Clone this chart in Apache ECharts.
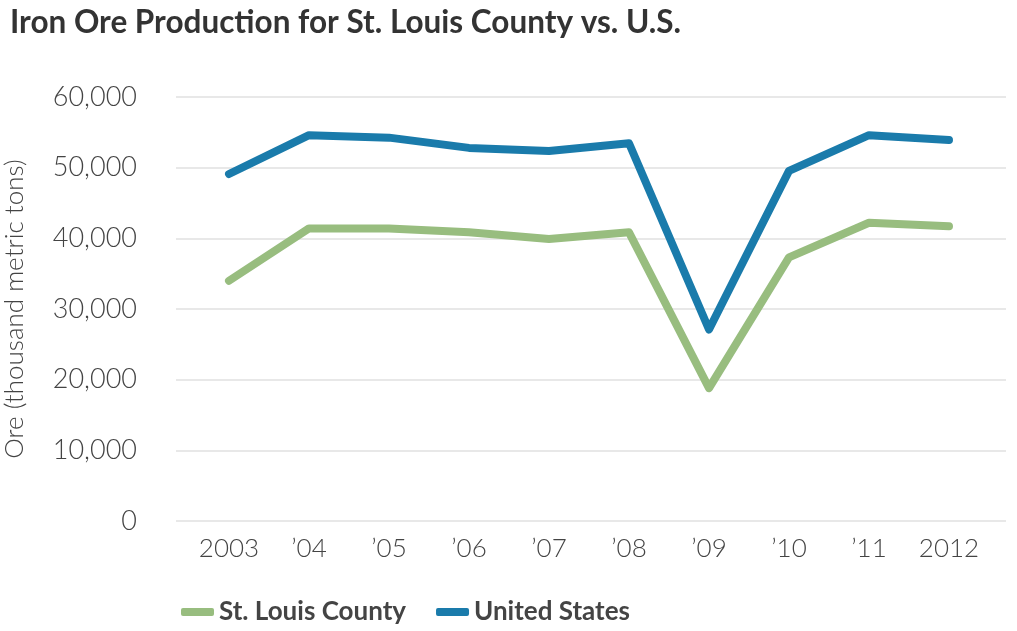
<!DOCTYPE html>
<html>
<head>
<meta charset="utf-8">
<script src="https://cdn.jsdelivr.net/npm/echarts@6/dist/echarts.min.js"></script>
<style>
html, body { margin: 0; padding: 0; background: #fff; }
#main { width: 1017px; height: 631px; }
</style>
</head>
<body>
<div id="main"></div>
<script>
// categories and values
var years = ['2003', '\u201904', '\u201905', '\u201906', '\u201907', '\u201908', '\u201909', '\u201910', '\u201911', '2012'];
var stLouis = [34000, 41400, 41400, 40850, 39900, 40850, 18800, 37300, 42200, 41700];
var unitedStates = [49100, 54600, 54250, 52800, 52350, 53450, 27100, 49550, 54600, 53900];
var yTicks = [0, 60000, 10000]; // min, max, interval

var myChart = echarts.init(document.getElementById('main'));

var labelFont = 'Lato, "Open Sans", sans-serif';

option = {
    backgroundColor: '#fff',
    title: {
        text: 'Iron Ore Production for St. Louis County vs. U.S.',
        left: 5,
        top: 2,
        textStyle: {
            fontFamily: labelFont,
            fontWeight: 'bold',
            fontSize: 31.5,
            color: '#333'
        }
    },
    legend: {
        left: 176,
        top: 594,
        icon: 'roundRect',
        itemWidth: 33,
        itemHeight: 8,
        itemGap: 30,
        textStyle: {
            fontFamily: labelFont,
            fontWeight: 'bold',
            fontSize: 26,
            color: '#444'
        },
        data: ['St. Louis County', 'United States']
    },
    grid: [
        // gridline / y-label frame
        {left: 176, right: 11, top: 97, bottom: 110, outerBoundsMode: 'none'},
        // plotting frame for the lines
        {left: 189, right: 28, top: 97, bottom: 110, outerBoundsMode: 'none'}
    ],
    xAxis: [
        {gridIndex: 0, type: 'category', data: years, show: false},
        {
            gridIndex: 1,
            type: 'category',
            data: years,
            boundaryGap: true,
            axisLine: {show: false},
            axisTick: {show: false},
            axisLabel: {
                interval: 0,
                hideOverlap: false,
                margin: 15,
                fontFamily: labelFont,
                fontWeight: 300,
                fontSize: 26,
                color: '#444'
            }
        }
    ],
    yAxis: [
        {
            gridIndex: 0,
            type: 'value',
            min: yTicks[0],
            max: yTicks[1],
            interval: yTicks[2],
            name: 'Ore (thousand metric tons)',
            nameLocation: 'middle',
            nameGap: 148,
            nameTextStyle: {
                fontFamily: labelFont,
                fontWeight: 300,
                fontSize: 26,
                color: '#444'
            },
            axisLine: {show: false},
            axisTick: {show: false},
            axisLabel: {
                margin: 39,
                fontFamily: labelFont,
                fontWeight: 300,
                fontSize: 27,
                color: '#444',
                formatter: function (v) {
                    return v.toLocaleString('en-US');
                }
            },
            splitLine: {lineStyle: {color: '#e8e8e8', width: 2}}
        },
        {
            gridIndex: 1,
            type: 'value',
            min: yTicks[0],
            max: yTicks[1],
            interval: yTicks[2],
            show: false,
            splitLine: {show: false}
        }
    ],
    series: [
        {
            name: 'St. Louis County',
            type: 'line',
            xAxisIndex: 1,
            yAxisIndex: 1,
            data: stLouis,
            symbol: 'none',
            color: '#98bd7f',
            lineStyle: {width: 8, cap: 'round', join: 'round', color: '#98bd7f'}
        },
        {
            name: 'United States',
            type: 'line',
            xAxisIndex: 1,
            yAxisIndex: 1,
            data: unitedStates,
            symbol: 'none',
            color: '#1a7bab',
            lineStyle: {width: 8, cap: 'round', join: 'round', color: '#1a7bab'}
        }
    ]
};

myChart.setOption(option);
window.addEventListener('resize', function () {
    myChart.resize();
});
</script>
</body>
</html>
